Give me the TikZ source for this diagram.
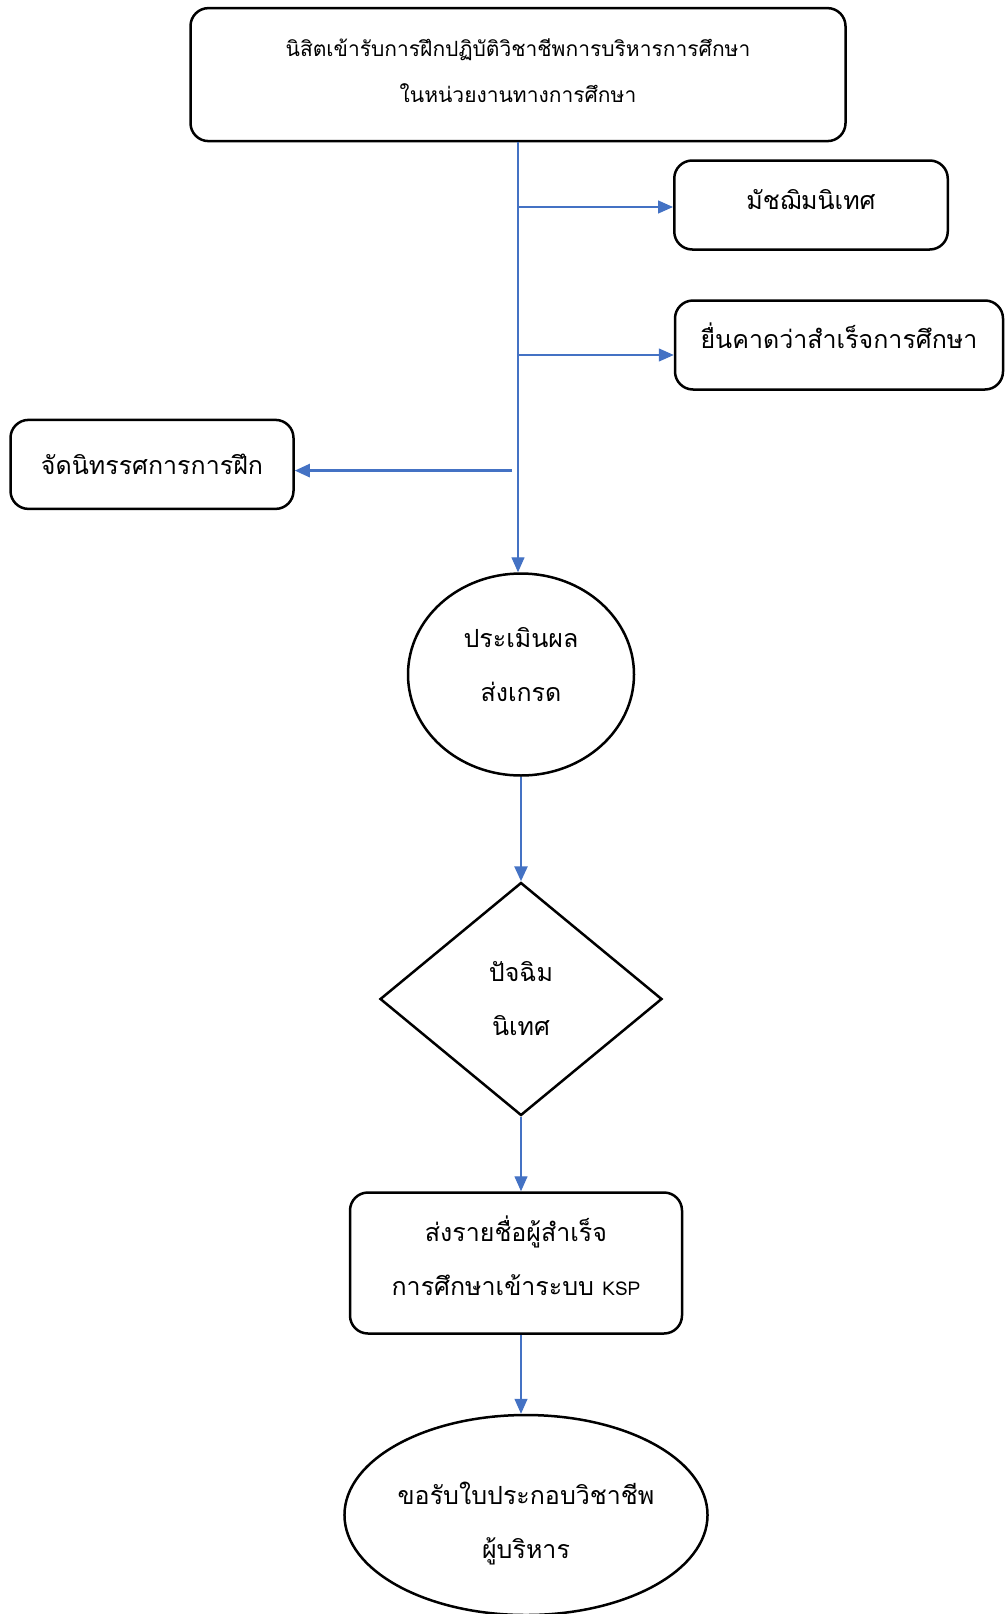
\documentclass[tikz,border=0pt]{standalone}
\usepackage{fontspec}
\newfontfamily\thaifont[Script=Thai]{Loma}
\usetikzlibrary{arrows.meta,shapes.geometric}
\definecolor{linkblue}{HTML}{4472C4}
\newcommand\TOPFONT{\thaifont\fontsize{21}{46}\selectfont}
\newcommand\BODYFONT{\thaifont\fontsize{25}{54}\selectfont}
\newcommand\LIFT[1]{\rule[-#1]{0pt}{0pt}}
\newcommand\DROP[1]{\rule{0pt}{#1}}
\tikzset{
BOX/.style ={draw=black,line width=2.5pt,rounded corners=18pt,inner sep=0pt,align=center,font=\BODYFONT},
OVAL/.style ={draw=black,line width=2.5pt,ellipse,inner sep=0pt,align=center,font=\BODYFONT},
RHOMB/.style ={draw=black,line width=2.5pt,diamond,inner sep=0pt,align=center,font=\BODYFONT},
LINK/.style ={draw=linkblue,line width=1.4pt,-{Triangle[length=15pt,width=13pt]}},
THICKLINK/.style ={LINK,line width=2.6pt},
}
\begin{document}
\begin{tikzpicture}[x=1pt,y=-1pt] %practicum flow
	\useasboundingbox (0,0) rectangle (1004,1614);
	\node[BOX,font=\TOPFONT,minimum width=655pt,minimum height=133pt] (enter) at (518,74.6) {นิสิตเข้ารับการฝึกปฏิบัติวิชาชีพการบริหารการศึกษา\\ในหน่วยงานทางการศึกษา\LIFT{7pt}};
	\node[BOX,minimum width=273.5pt,minimum height=89pt] (orient) at (811,205) {มัชฌิมนิเทศ\LIFT{12pt}};
	\node[BOX,minimum width=328pt,minimum height=89pt] (apply) at (839,345) {ยื่นคาดว่าสำเร็จการศึกษา\LIFT{18pt}};
	\node[BOX,minimum width=283pt,minimum height=89pt] (expo) at (152,464.4) {จัดนิทรรศการการฝึก};
	\node[OVAL,minimum width=226pt,minimum height=202pt] (grade) at (521,674.5) {ประเมินผล\\ส่งเกรด\LIFT{20pt}};
	\node[RHOMB,minimum width=282pt,minimum height=233pt] (final) at (521,999) {ปัจฉิม\\นิเทศ};
	\node[BOX,minimum width=332pt,minimum height=141pt] (send) at (516,1263) {ส่งรายชื่อผู้สำเร็จ\\การศึกษาเข้าระบบ {\fontsize{19}{54}\selectfont KSP}\LIFT{14pt}};
	\node[OVAL,minimum width=362pt,minimum height=200pt] (permit) at (526,1515) {\DROP{40pt}ขอรับใบประกอบวิชาชีพ\\ผู้บริหาร};
	\coordinate (b1) at (519,207);
	\coordinate (b2) at (519,355);
	\coordinate (b3) at (512,470.6);
	\path[LINK] (enter.south) -- (enter.south |- grade.north);
	\path[LINK] (b1) -- (b1 -| orient.west);
	\path[LINK] (b2) -- (b2 -| apply.west);
	\path[THICKLINK] (b3) -- (b3 -| expo.east);
	\path[THICKLINK] (grade.south) -- (final.north);
	\path[LINK] (final.south) -- (final.south |- send.north);
	\path[LINK] (send.south -| final.south) -- (final.south |- permit.north);
\end{tikzpicture}
\end{document}
